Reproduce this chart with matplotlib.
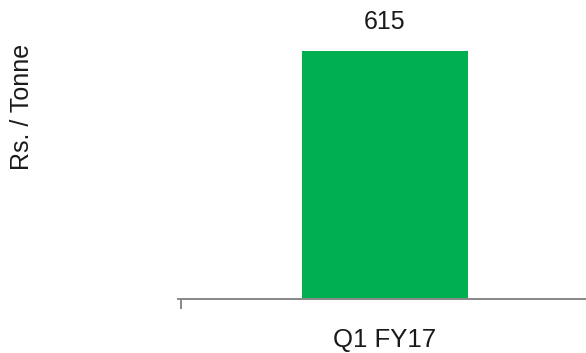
import matplotlib.pyplot as plt

# realised price for the quarter
quarters = ["Q1 FY17"]
price = [615]

plt.rcParams["font.family"] = ["Liberation Sans", "DejaVu Sans"]

W, H = 586, 353
fig = plt.figure(figsize=(W / 100, H / 100), dpi=100)
ax = fig.add_axes([178 / W, (H - 299) / H, (W - 178) / W, (299 - 17) / H])

xs = list(range(len(quarters)))
bars = ax.bar(xs, price, width=0.407, color="#00B050", zorder=2)
ax.set_xlim(-0.507, 0.493)
ax.set_ylim(0, 700)

for b, v in zip(bars, price):
    ax.text(b.get_x() + b.get_width() / 2, v + 42, f"{v}",
            ha="center", va="bottom", fontsize=18, color="#1a1a1a")

for s in ["top", "right", "left"]:
    ax.spines[s].set_visible(False)
ax.spines["bottom"].set_color("#888888")
ax.spines["bottom"].set_linewidth(1.4)

ax.set_yticks([])
ax.set_xticks(xs)
ax.set_xticklabels(quarters, fontsize=18.5, color="#1a1a1a")
ax.tick_params(axis="x", which="major", length=0, pad=21)
ax.set_xticks([-0.5], minor=True)
ax.tick_params(axis="x", which="minor", length=7, width=1.4, color="#888888")

fig.text(22 / W, 1 - 107 / H, "Rs. / Tonne", rotation=90, ha="center",
         va="center", fontsize=18, color="#1a1a1a")

fig.savefig("out.png", dpi=100)
